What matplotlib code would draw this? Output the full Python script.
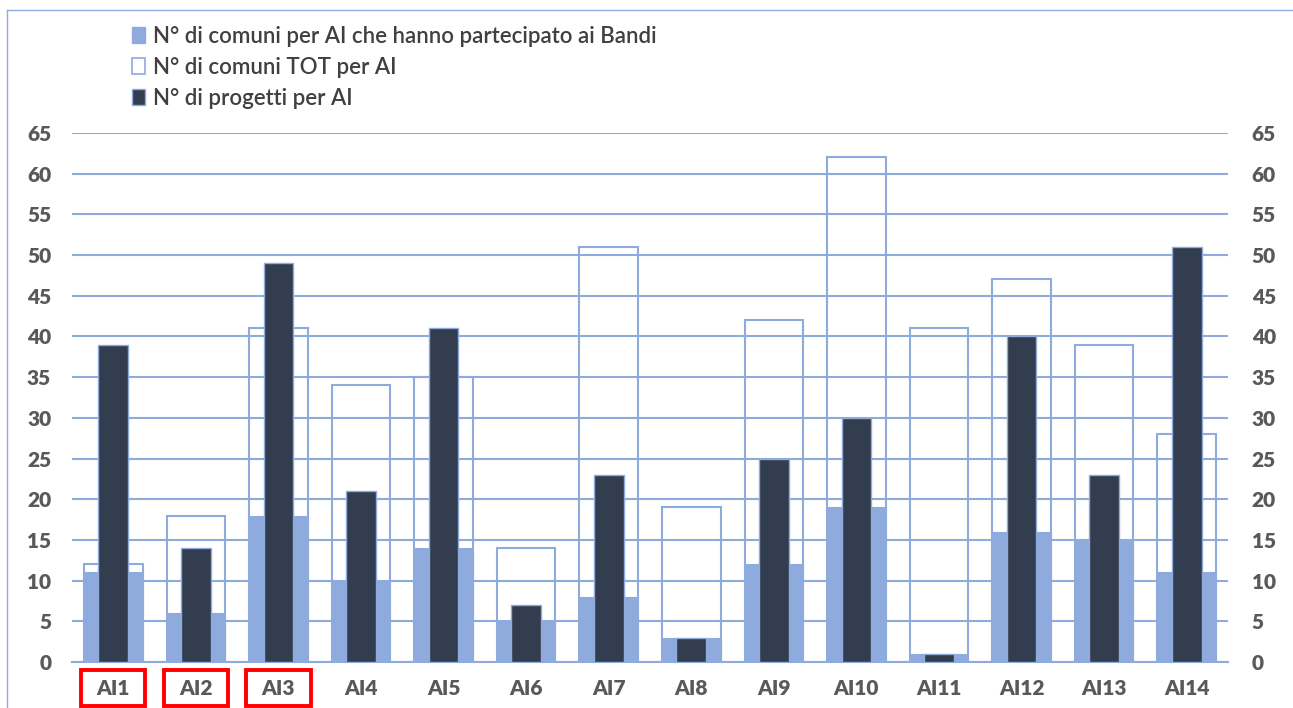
import numpy as np
import matplotlib.pyplot as plt
from matplotlib.patches import Patch, Rectangle
from matplotlib.lines import Line2D

# data
categories = ['AI1', 'AI2', 'AI3', 'AI4', 'AI5', 'AI6', 'AI7',
              'AI8', 'AI9', 'AI10', 'AI11', 'AI12', 'AI13', 'AI14']
comuni_bandi = [11, 6, 18, 10, 14, 5, 8, 3, 12, 19, 1, 16, 15, 11]
comuni_tot = [12, 18, 41, 34, 35, 14, 51, 19, 42, 62, 41, 47, 39, 28]
progetti = [39, 14, 49, 21, 41, 7, 23, 3, 25, 30, 1, 40, 23, 51]
highlighted = ['AI1', 'AI2', 'AI3']

labels = ['N° di comuni per AI che hanno partecipato ai Bandi',
          'N° di comuni TOT per AI',
          'N° di progetti per AI']

light = '#8FAADC'
dark = '#323E4F'
grey = '#595959'

plt.rcParams['font.family'] = ['Lato', 'DejaVu Sans']

fig = plt.figure(figsize=(12.93, 7.08), dpi=100)
ax = fig.add_axes([72 / 1293, 1 - 662 / 708, (1228 - 72) / 1293, (662 - 133) / 708])

x = np.arange(len(categories))
ax.bar(x, comuni_bandi, width=0.71, color=light, edgecolor=light, linewidth=0.8, zorder=2)
ax.bar(x, comuni_tot, width=0.71, facecolor='none', edgecolor=light, linewidth=1.5, zorder=3)
ax.bar(x, progetti, width=0.36, color=dark, edgecolor=light, linewidth=1.0, zorder=4)

ax.set_xlim(-0.5, len(categories) - 0.5)
ax.set_ylim(0, 65)
ax.set_yticks(range(0, 66, 5))
ax.set_xticks(x)
ax.set_xticklabels(categories)
ax.yaxis.grid(True, color=light, linewidth=1.5)
ax.set_axisbelow(True)
for s in ax.spines.values():
    s.set_visible(False)
ax.spines['bottom'].set_visible(True)
ax.spines['bottom'].set_color(light)
ax.spines['bottom'].set_linewidth(1.5)

ax.tick_params(axis='y', length=0, pad=15, labelsize=15, labelcolor=grey)
ax.tick_params(axis='x', length=0, pad=12, labelsize=15, labelcolor=grey)
for t in ax.get_xticklabels() + ax.get_yticklabels():
    t.set_fontweight('heavy')

ax2 = ax.twinx()
ax2.set_ylim(0, 65)
ax2.set_yticks(range(0, 66, 5))
for s in ax2.spines.values():
    s.set_visible(False)
ax2.tick_params(axis='y', length=0, pad=17, labelsize=15, labelcolor=grey)
for t in ax2.get_yticklabels():
    t.set_fontweight('heavy')

# red boxes round the first three labels
for name in highlighted:
    i = categories.index(name)
    ax.add_patch(Rectangle((i - 0.39, -0.083), 0.78, 0.068, transform=ax.get_xaxis_transform(),
                           fill=False, edgecolor='#FF0000', linewidth=2.8, clip_on=False, zorder=5))

handles = [Patch(facecolor=light, edgecolor=light),
           Patch(facecolor='white', edgecolor=light, linewidth=1.2),
           Patch(facecolor=dark, edgecolor=light)]
fig.legend(handles, labels, loc='upper left', bbox_to_anchor=(112 / 1293, 1 - 6 / 708),
           frameon=False, prop={'size': 16, 'weight': 'semibold'}, handlelength=0.6,
           handleheight=0.7, handletextpad=0.35, labelspacing=0.45, labelcolor='#404040')

# thin frame lines at the top and left of the chart area
fig.add_artist(Line2D([7 / 1293, 1], [1 - 10 / 708, 1 - 10 / 708], color=light, linewidth=1))
fig.add_artist(Line2D([7 / 1293, 7 / 1293], [0, 1 - 10 / 708], color=light, linewidth=1))

fig.savefig('out.png', dpi=100)
